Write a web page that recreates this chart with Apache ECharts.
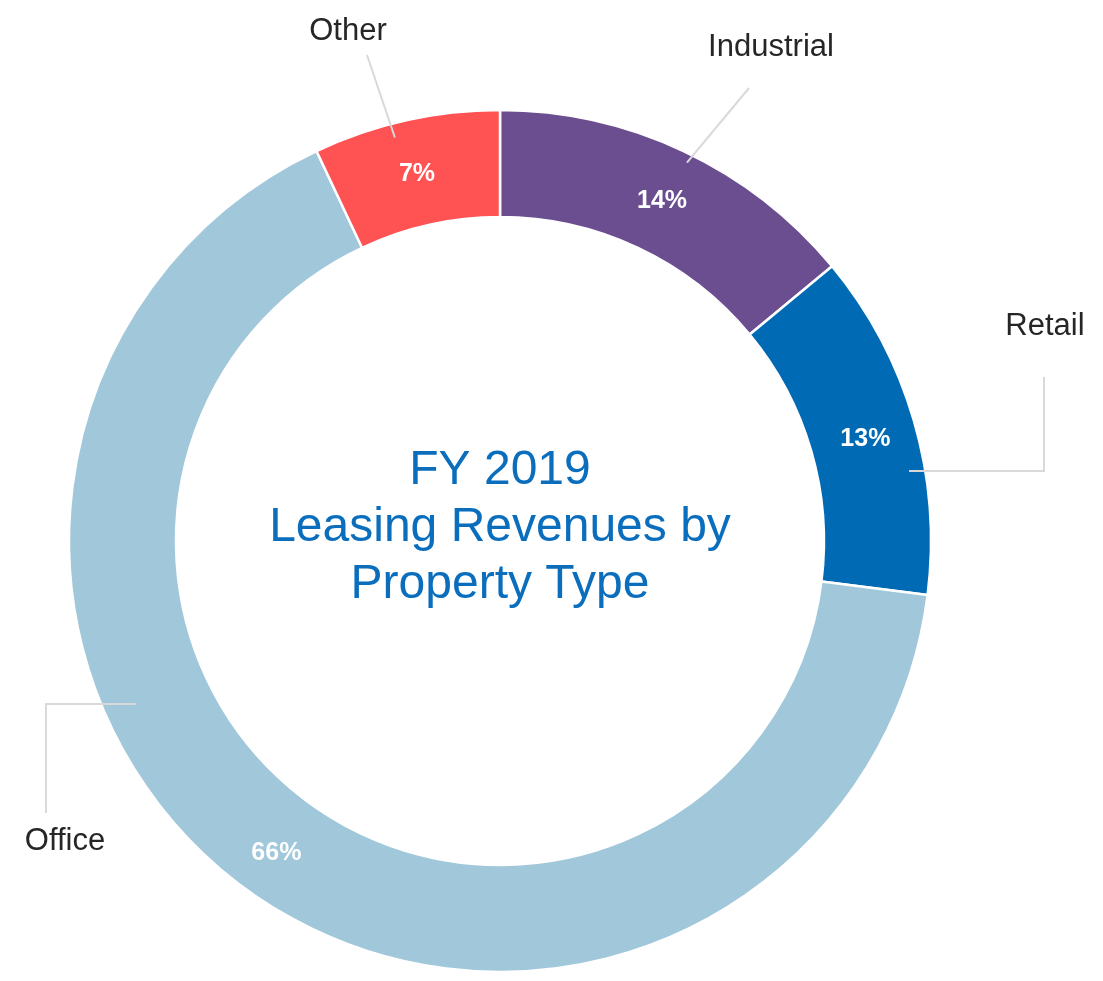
<!DOCTYPE html>
<html>
<head>
<meta charset="utf-8">
<script src="https://cdn.jsdelivr.net/npm/echarts@6/dist/echarts.min.js"></script>
<style>
  html, body { margin: 0; padding: 0; background: #ffffff; }
  #chart { width: 1103px; height: 981px; }
</style>
</head>
<body>
<div id="chart"></div>
<script>
// ---- data ----
const categories = ['Industrial', 'Retail', 'Office', 'Other'];
const shares = [14, 13, 66, 7];           // % of FY 2019 leasing revenues
const colors = ['#6B4E8F', '#006AB4', '#A1C7DA', '#FF5252'];
const titleLines = ['FY 2019', 'Leasing Revenues by', 'Property Type'];

// ---- layout config (not data) ----
const CENTER = [500, 541];
const RADII = [324, 431];
// label centre, attach offset from label centre, ring end (polar: deg clockwise from top, radius), elbow?
const LEADERS = [
  { pos: [771, 47],  attach: [-22, 41], ring: [26.3, 422], elbow: false },
  { pos: [1045, 326], attach: [-1, 51], ring: [80.3, 415], elbow: true },
  { pos: [65, 841],  attach: [-19, -28], ring: [245.9, 399], elbow: true },
  { pos: [348, 31],  attach: [19, 24],  ring: [345.4, 417], elbow: false }
];
function polar(deg, r) {
  const a = deg * Math.PI / 180;
  return [CENTER[0] + r * Math.sin(a), CENTER[1] - r * Math.cos(a)];
}

const FONT = '"Liberation Sans", Arial, Helvetica, sans-serif';
const seriesData = categories.map((c, i) => ({ name: c, value: shares[i], itemStyle: { color: colors[i] } }));

const chart = echarts.init(document.getElementById('chart'), null, { renderer: 'canvas' });
chart.setOption({
  backgroundColor: '#ffffff',
  animation: false,
  title: {
    text: titleLines.join('\n'),
    left: CENTER[0],
    top: 442,
    padding: 0,
    textAlign: 'center',
    textStyle: {
      color: '#0A6EBD',
      fontFamily: FONT,
      fontSize: 48,
      fontWeight: 'normal',
      lineHeight: 57
    }
  },
  series: [
    {
      type: 'pie',
      z: 2,
      center: CENTER,
      radius: RADII,
      startAngle: 90,
      clockwise: true,
      avoidLabelOverlap: false,
      silent: true,
      itemStyle: { borderColor: '#ffffff', borderWidth: 2.5 },
      label: {
        show: true,
        position: 'inside',
        formatter: '{c}%',
        color: '#ffffff',
        fontFamily: FONT,
        fontSize: 25,
        fontWeight: 'bold',
        offset: [0, 4]
      },
      labelLine: { show: false },
      emphasis: { disabled: true },
      data: seriesData
    },
    {
      type: 'pie',
      z: 5,
      center: CENTER,
      radius: RADII,
      startAngle: 90,
      clockwise: true,
      avoidLabelOverlap: false,
      silent: true,
      itemStyle: { color: 'rgba(0,0,0,0)', borderWidth: 0 },
      label: {
        show: true,
        position: 'outside',
        formatter: '{b}',
        color: '#262626',
        fontFamily: FONT,
        fontSize: 31
      },
      labelLine: {
        show: true,
        length: 20,
        length2: 10,
        lineStyle: { color: '#D9D9D9', width: 2 }
      },
      labelLayout: function (p) {
        const L = LEADERS[p.dataIndex];
        const a = [L.pos[0] + L.attach[0], L.pos[1] + L.attach[1]];
        const r = polar(L.ring[0], L.ring[1]);
        const pts = L.elbow ? [a, [a[0], r[1]], r] : [a, r];
        return {
          x: L.pos[0],
          y: L.pos[1],
          align: 'center',
          verticalAlign: 'middle',
          labelLinePoints: pts
        };
      },
      emphasis: { disabled: true },
      data: categories.map((c, i) => ({ name: c, value: shares[i] }))
    }
  ]
});
</script>
</body>
</html>
